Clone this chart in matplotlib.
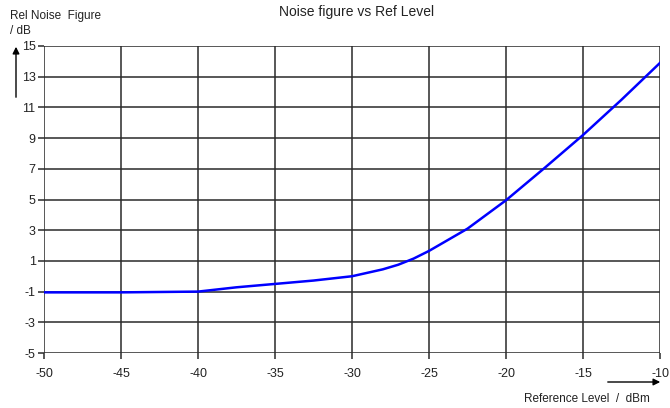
import matplotlib
matplotlib.use("Agg")
import matplotlib.pyplot as plt

ref_level = [-50, -45, -40, -37.5, -35, -32.5, -30, -28, -27, -26, -25, -22.5, -20, -17.5, -15, -12.5, -10]
noise_fig = [-1.05, -1.05, -1.0, -0.72, -0.5, -0.28, 0.0, 0.45, 0.75, 1.15, 1.65, 3.1, 4.95, 7.05, 9.2, 11.5, 13.9]
x_ticks = [-50, -45, -40, -35, -30, -25, -20, -15, -10]
y_ticks = [-5, -3, -1, 1, 3, 5, 7, 9, 11, 13, 15]

plt.rcParams['font.family'] = ['Liberation Sans', 'DejaVu Sans']

fig = plt.figure(figsize=(6.7, 4.08), dpi=100)
ax = fig.add_axes([44/670, 1-353/408, 616/670, 307/408])

ax.plot(ref_level, noise_fig, color='#0000ff', lw=1.8, zorder=3)
ax.set_xlim(-50, -10)
ax.set_ylim(-5, 15)
ax.set_xticks(x_ticks)
ax.set_yticks(y_ticks)
ax.set_xticklabels([str(v) for v in x_ticks])
ax.set_yticklabels([str(v) for v in y_ticks])
ax.grid(True, color='#2a2a2a', lw=1.1)
for s in ax.spines.values():
    s.set_visible(False)
ax.tick_params(axis='both', length=4, width=1.1, color='#2a2a2a', labelsize=9, labelcolor='#222222')
ax.tick_params(axis='x', pad=7)
ax.tick_params(axis='y', pad=2)

fig.text(357/670, 1-12/408, 'Noise figure vs Ref Level', ha='center', va='center', fontsize=10, color='#222222')
fig.text(10/670, 1-16/408, 'Rel Noise  Figure', ha='left', va='center', fontsize=8.5, color='#222222')
fig.text(10/670, 1-31/408, '/ dB', ha='left', va='center', fontsize=8.5, color='#222222')
fig.text(524/670, 1-399/408, 'Reference Level  /  dBm', ha='left', va='center', fontsize=8.5, color='#222222')

fig.add_artist(matplotlib.patches.FancyArrowPatch((16/670, 1-100/408), (16/670, 1-44/408), transform=fig.transFigure,
               arrowstyle='-|>,head_length=4,head_width=2', color='black', lw=1.0, mutation_scale=1))
fig.add_artist(matplotlib.patches.FancyArrowPatch((605/670, 1-382/408), (663/670, 1-382/408), transform=fig.transFigure,
               arrowstyle='-|>,head_length=4,head_width=2', color='black', lw=1.0, mutation_scale=1))

fig.savefig('out.png', dpi=100)
